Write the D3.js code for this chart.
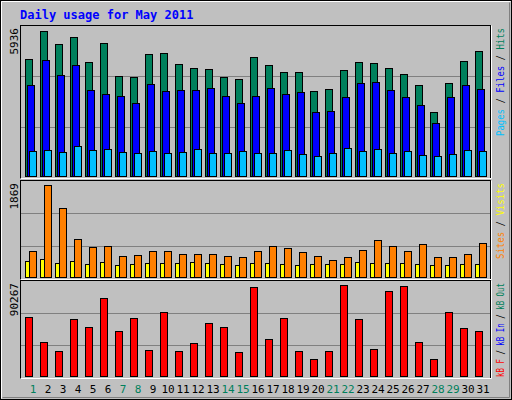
<!DOCTYPE html>
<html><head><meta charset="utf-8">
<script src="https://cdn.jsdelivr.net/npm/d3@7"></script>
<style>body{margin:0;background:#fff}svg{display:block;font-family:"DejaVu Sans Mono",monospace}</style>
</head><body>
<script>
var days = d3.range(1, 32);
var weekend = [1, 7, 8, 14, 15, 21, 22, 28, 29];
var hits = [4808,5936,5412,5694,4687,5452,4123,4083,5009,5049,4606,4445,4405,4083,4042,4888,4566,4284,4284,3559,3639,4365,4687,4647,4445,4203,3800,2713,3881,4727,5130];
var files = [3801,4768,4163,4566,3599,3438,3357,3075,3841,3559,3599,3599,3680,3357,3075,3357,3680,3438,3519,2713,2753,3317,3881,3921,3599,3317,2995,2270,3317,3801,3639];
var pages = [1142,1182,1101,1343,1182,1222,1101,1061,1142,1061,1101,1222,1061,1061,1142,1061,1061,1182,1021,940,1061,1262,1142,1222,1061,1142,980,940,1021,1182,1142];
var sites = [589,1869,1422,813,650,670,488,508,589,589,528,528,528,488,467,589,670,630,569,488,406,467,609,792,670,589,711,467,467,528,731];
var visits = [386,427,345,386,325,366,305,325,345,345,345,366,345,325,305,345,345,325,305,325,325,325,366,345,345,345,325,305,305,325,325];
var kbytes = [59517,35710,27775,57533,50590,77372,46622,58525,28767,64477,27775,34718,53565,50590,26783,88284,38686,58525,27775,19839,27775,90267,57533,29759,84316,89276,35710,19839,64477,49598,46622];

var W = 512, H = 400;
var svg = d3.select("body").append("svg").attr("width", W).attr("height", H);
svg.append("rect").attr("x", 0.5).attr("y", 0.5).attr("width", W - 1).attr("height", H - 1).attr("fill", "#c0c0c0").attr("stroke", "#000");
svg.append("path").attr("d", "M1.5,398.5V1.5H510.5").attr("stroke", "#fff").attr("fill", "none");
svg.append("path").attr("d", "M2.5,397.5H509.5V2.5").attr("stroke", "#808080").attr("fill", "none");

svg.append("text").attr("x", 20).attr("y", 19).attr("fill", "#0000ff").attr("font-size", 12).attr("font-weight", "bold").text("Daily usage for May 2011");

var gx = function (d) { return 25 + (d - 1) * 15; };

function panel(top, bottom, max, label, series, legend, legendLen) {
  var y = d3.scaleLinear().domain([0, max / 0.974]).range([bottom, top]);
  svg.append("rect").attr("x", 20.5).attr("y", top + 0.5).attr("width", 470).attr("height", bottom - top).attr("fill", "#c0c0c0").attr("stroke", "#000");
  svg.append("path").attr("d", "M20.5," + (bottom + 0.5) + "H491.5V" + (top + 0.5)).attr("stroke", "#fff").attr("fill", "none");
  [1, 2].forEach(function (k) {
    var gy = Math.round(bottom - (bottom - top) * k / 3) + 0.5;
    svg.append("line").attr("x1", 21).attr("x2", 490).attr("y1", gy).attr("y2", gy).attr("stroke", "#808080");
  });
  series.forEach(function (s) {
    svg.append("g").selectAll("rect").data(s.data).join("rect")
      .attr("x", function (d, i) { return gx(i + 1) + s.off + 0.5; })
      .attr("y", function (d) { return Math.round(y(d) + 2) + 0.5; })
      .attr("width", s.w)
      .attr("height", function (d) { return bottom - 2 - Math.round(y(d) + 2); })
      .attr("fill", s.color).attr("stroke", "#000");
  });
  svg.append("text").attr("transform", "translate(18," + (top + 3) + ") rotate(-90)")
    .attr("text-anchor", "end").attr("font-size", 11).attr("fill", "#000").text(label);
  var t = svg.append("text").attr("transform", "translate(504," + (top + 3) + ") rotate(-90)")
    .attr("text-anchor", "end").attr("font-size", 10)
    .attr("textLength", legendLen).attr("lengthAdjust", "spacingAndGlyphs");
  legend.forEach(function (l, i) {
    if (i) t.append("tspan").attr("fill", "#000").text(" / ");
    t.append("tspan").attr("fill", l[1]).text(l[0]);
  });
}

panel(25, 178, 5936, "5936", [
  { data: hits, off: 0, w: 7, color: "#00805c" },
  { data: files, off: 2, w: 7, color: "#0000ff" },
  { data: pages, off: 4, w: 7, color: "#00c0ff" }
], [["Pages", "#00c0ff"], ["Files", "#0000ff"], ["Hits", "#00805c"]], 108);

panel(180, 279, 1869, "1869", [
  { data: visits, off: 0, w: 4, color: "#ffff00" },
  { data: sites, off: 4, w: 7, color: "#ff8000" }
], [["Sites", "#ff8000"], ["Visits", "#ffff00"]], 76);

panel(280, 378, 90267, "90267", [
  { data: kbytes, off: 0, w: 7, color: "#ff0000" }
], [["kB F", "#ff0000"], ["kB In", "#0000ff"], ["kB Out", "#00805c"]], 94);

svg.append("g").selectAll("text").data(days).join("text")
  .attr("x", function (d) { return gx(d) + 8; }).attr("y", 393)
  .attr("text-anchor", "middle").attr("font-size", 11)
  .attr("fill", function (d) { return weekend.indexOf(d) >= 0 ? "#00805c" : "#000"; })
  .text(function (d) { return d; });
</script>
</body></html>
